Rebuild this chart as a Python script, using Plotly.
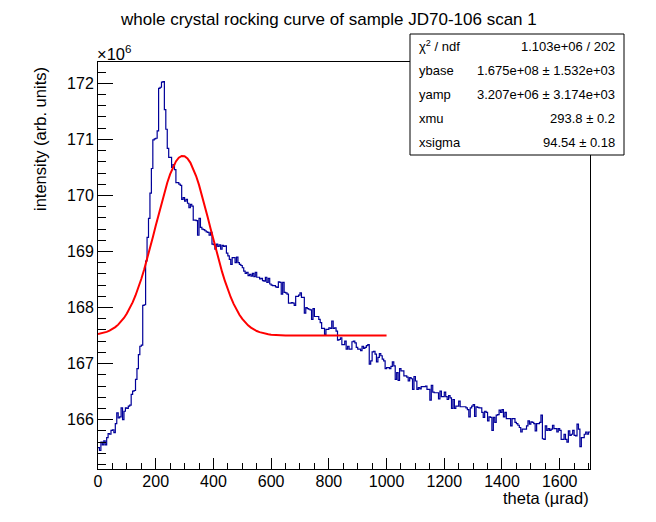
import numpy as np
import plotly.graph_objects as go


# histogram contents in units of 1e6, bins of 5 urad starting at theta = 0
THETA_MIN = 0.0
BIN_WIDTH = 5.0
INTENSITY = [
    165.50, 165.45, 165.60, 165.55, 165.62, 165.55, 165.68, 165.75, 165.74, 165.81,
    165.82, 165.77, 165.93, 166.12, 166.03, 166.05, 166.21, 166.00, 166.15, 166.21,
    166.20, 166.24, 166.26, 166.45, 166.51, 166.52, 166.72, 166.91, 167.16, 167.31,
    167.33, 168.04, 168.05, 168.83, 169.25, 169.59, 170.04, 170.48, 170.99, 171.01,
    171.02, 171.15, 171.91, 171.93, 172.02, 172.03, 171.53, 171.18, 170.84, 170.68,
    170.68, 170.50, 170.55, 170.46, 170.23, 170.23, 170.20, 170.18, 169.93, 169.96,
    169.90, 169.93, 169.86, 169.78, 169.84, 169.81, 169.56, 169.56, 169.55, 169.29,
    169.59, 169.43, 169.40, 169.39, 169.37, 169.35, 169.34, 169.29, 169.34, 169.13,
    169.12, 169.04, 169.13, 169.09, 169.12, 169.04, 169.11, 169.09, 169.10, 168.97,
    168.92, 168.86, 168.77, 168.89, 168.89, 168.80, 168.90, 168.80, 168.77, 168.75,
    168.71, 168.65, 168.61, 168.63, 168.57, 168.59, 168.56, 168.61, 168.55, 168.63,
    168.54, 168.54, 168.51, 168.52, 168.48, 168.47, 168.54, 168.45, 168.52, 168.42,
    168.40, 168.39, 168.39, 168.37, 168.36, 168.46, 168.45, 168.24, 168.45, 168.27,
    168.26, 168.24, 168.08, 168.08, 168.09, 168.08, 168.04, 168.20, 168.20, 168.22,
    168.26, 168.18, 168.18, 167.90, 168.00, 167.98, 167.97, 167.96, 167.79, 167.98,
    167.84, 167.84, 167.84, 167.79, 167.73, 167.63, 167.63, 167.52, 167.61, 167.61,
    167.64, 167.63, 167.76, 167.63, 167.64, 167.58, 167.42, 167.43, 167.46, 167.34,
    167.34, 167.40, 167.26, 167.31, 167.26, 167.26, 167.39, 167.40, 167.37, 167.29,
    167.26, 167.26, 167.23, 167.31, 167.27, 167.29, 167.32, 167.34, 166.99, 167.05,
    167.21, 167.22, 167.17, 167.03, 167.11, 167.18, 167.14, 167.08, 167.05, 166.91,
    166.93, 166.93, 166.91, 166.95, 167.03, 166.96, 166.72, 166.84, 166.70, 166.91,
    166.87, 166.87, 166.78, 166.78, 166.76, 166.69, 166.75, 166.73, 166.54, 166.77,
    166.69, 166.54, 166.57, 166.55, 166.59, 166.59, 166.59, 166.60, 166.54, 166.54,
    166.35, 166.61, 166.49, 166.48, 166.48, 166.48, 166.37, 166.51, 166.41, 166.41,
    166.49, 166.41, 166.36, 166.43, 166.39, 166.20, 166.36, 166.20, 166.24, 166.24,
    166.33, 166.23, 166.23, 166.23, 166.23, 166.21, 166.18, 166.05, 166.21, 166.24,
    166.27, 166.06, 166.23, 166.22, 166.21, 166.21, 166.13, 166.04, 166.15, 166.13,
    165.98, 166.05, 166.04, 165.81, 166.04, 165.95, 166.08, 166.09, 166.17, 166.13,
    166.18, 166.05, 166.13, 166.02, 166.02, 166.02, 165.89, 166.02, 166.02, 165.95,
    165.93, 165.90, 165.86, 165.78, 165.83, 165.83, 165.83, 165.89, 165.98, 165.92,
    165.96, 165.95, 165.93, 165.80, 165.93, 165.93, 165.95, 166.08, 165.66, 165.65,
    165.89, 165.81, 165.84, 165.81, 165.83, 165.90, 165.84, 165.84, 165.78, 165.84,
    165.81, 165.65, 165.65, 165.74, 165.65, 165.60, 165.80, 165.72, 165.74, 165.81,
    165.72, 165.71, 165.92, 165.83, 165.52, 165.68, 165.68, 165.74, 165.78, 165.74,
    165.78,
]

# gaussian fit result (as printed in the stats box), intensity in units of 1e6
YBASE = 167.5
YAMP = 3.207
XMU = 293.8
XSIGMA = 94.54
FIT_RANGE = [0.0, 1000.0]

STATS_NAMES = ['χ<sup>2</sup> / ndf', 'ybase', 'yamp', 'xmu', 'xsigma']
STATS_VALUES = ['1.103e+06 / 202', '1.675e+08 ± 1.532e+03', '3.207e+06 ± 3.174e+03',
                '293.8 ± 0.2', '94.54 ± 0.18']

X_TICKS = [0, 200, 400, 600, 800, 1000, 1200, 1400, 1600]
Y_TICKS = [166, 167, 168, 169, 170, 171, 172]
Y_RANGE = [165.12, 172.38]

TITLE = 'whole crystal rocking curve of sample JD70-106 scan 1'
X_TITLE = 'theta (µrad)'
Y_TITLE = 'intensity (arb. units)'

FONT = 'Liberation Sans, Arial, Helvetica, sans-serif'

# window and frame in screen pixels; the page body has an 8px margin
W, H = 656, 522
BODY = 8
L, R, T, B = 98, 590, 62, 469


def px(x: float) -> float:
    """screen column -> paper x"""
    return (x - L) / (R - L)


def py(y: float) -> float:
    """screen row -> paper y"""
    return (B - y) / (B - T)


def histogram_trace() -> go.Scatter:
    """step line like root draws a TH1"""
    n = len(INTENSITY)
    edges = THETA_MIN + BIN_WIDTH * np.arange(n + 1)
    return go.Scatter(x=edges, y=INTENSITY + [INTENSITY[-1]], mode='lines',
                      line=dict(color='#000099', width=1.2, shape='hv'),
                      hoverinfo='skip', showlegend=False)


def fit_trace() -> go.Scatter:
    """the fitted gaussian, drawn over its fit range only"""
    theta = np.linspace(FIT_RANGE[0], FIT_RANGE[1], 101)
    yfit = YBASE + YAMP * np.exp(-0.5 * ((theta - XMU) / XSIGMA) ** 2)
    return go.Scatter(x=theta, y=yfit, mode='lines',
                      line=dict(color='#ff0000', width=2),
                      hoverinfo='skip', showlegend=False)


fig = go.Figure([histogram_trace(), fit_trace()])

x_max = THETA_MIN + BIN_WIDTH * len(INTENSITY)
fig.update_xaxes(range=[THETA_MIN, x_max], tickvals=X_TICKS, ticks='inside', ticklen=11,
                 tickwidth=1, tickcolor='black', showline=True, linecolor='black',
                 linewidth=1, mirror=True, showgrid=False, zeroline=False,
                 ticklabelstandoff=-2,
                 tickfont=dict(family=FONT, size=16, color='black'),
                 minor=dict(dtick=50, tick0=0, ticks='inside', ticklen=6,
                            tickcolor='black', showgrid=False))
fig.update_yaxes(range=Y_RANGE, tickvals=Y_TICKS, ticks='inside', ticklen=15,
                 tickwidth=1, tickcolor='black', showline=True, linecolor='black',
                 linewidth=1, mirror=True, showgrid=False, zeroline=False,
                 tickfont=dict(family=FONT, size=16, color='black'),
                 minor=dict(dtick=0.2, tick0=166, ticks='inside', ticklen=8,
                            tickcolor='black', showgrid=False))

annotations = [
    dict(text=TITLE, x=px(328), y=py(20), xanchor='center', yanchor='middle',
         font=dict(size=17)),
    dict(text=X_TITLE, x=px(591), y=py(498), xanchor='right', yanchor='middle',
         font=dict(size=16.5)),
    dict(text=Y_TITLE, x=px(40), y=py(139), xanchor='center', yanchor='middle',
         textangle=-90, font=dict(size=16.5)),
    dict(text='×10<sup>6</sup>', x=px(95), y=py(65), xanchor='left', yanchor='bottom',
         font=dict(size=16.5)),
]

# stats box rows
box_top, box_bottom = 34, 155
row_h = (box_bottom - box_top) / len(STATS_NAMES)
for k, (name, val) in enumerate(zip(STATS_NAMES, STATS_VALUES)):
    yc = box_top + row_h * (k + 0.5)
    annotations.append(dict(text=name, x=px(417), y=py(yc), xanchor='left',
                            yanchor='middle', font=dict(size=13)))
    annotations.append(dict(text=val, x=px(617), y=py(yc), xanchor='right',
                            yanchor='middle', font=dict(size=13)))

for a in annotations:
    a.update(xref='paper', yref='paper', showarrow=False)
    a['font'].update(family=FONT, color='black')

fig.update_layout(
    width=W - BODY, height=H - BODY, autosize=False,
    margin=dict(l=L - BODY, r=W - R, t=T - BODY, b=H - B, pad=0),
    paper_bgcolor='white', plot_bgcolor='white',
    showlegend=False,
    annotations=annotations,
    shapes=[dict(type='rect', xref='paper', yref='paper', layer='above',
                 x0=px(410), x1=px(624), y0=py(box_bottom), y1=py(box_top),
                 line=dict(color='black', width=1), fillcolor='white')],
)

fig.write_html('out.html')
